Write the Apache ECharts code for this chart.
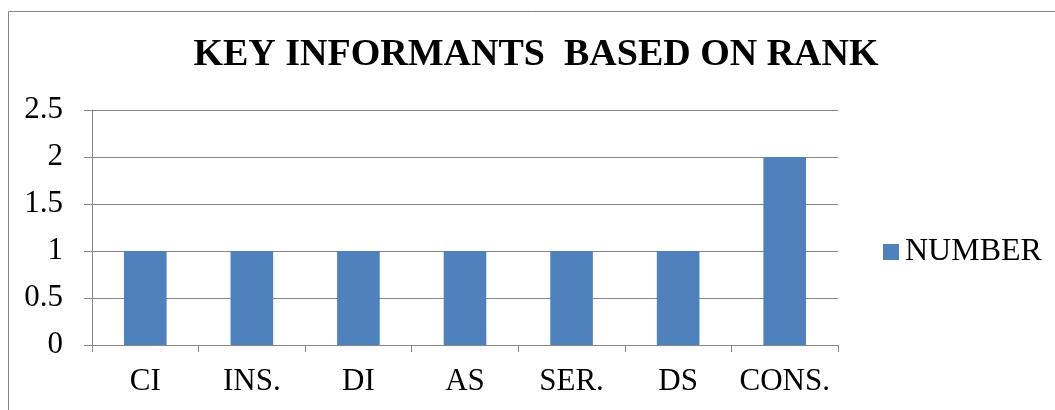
<!DOCTYPE html>
<html><head><meta charset="utf-8">
<script src="https://cdn.jsdelivr.net/npm/echarts@6/dist/echarts.min.js"></script>
<style>html,body{margin:0;padding:0;background:#fff}#c{width:1055px;height:410px}</style>
</head><body><div id="c"></div>
<script>
const categories = ['CI','INS.','DI','AS','SER.','DS','CONS.'];
const numberValues = [1,1,1,1,1,1,2];
const seriesName = 'NUMBER';
const titleText = 'KEY INFORMANTS  BASED ON RANK';
const font = '"Liberation Serif", "Times New Roman", serif';
const chart = echarts.init(document.getElementById('c'));
chart.setOption({
  animation:false,
  backgroundColor:'#fff',
  title:{text:titleText,left:531,textAlign:'center',top:31,textStyle:{fontFamily:font,fontSize:38,fontWeight:'bold',color:'#000'}},
  legend:{data:[seriesName],left:878,top:231,icon:'rect',itemWidth:16,itemHeight:16,itemGap:4,textStyle:{fontFamily:font,fontSize:32,color:'#000',padding:[0,0,0,1]}},
  graphic:[{type:'rect',shape:{x:8.5,y:11.5,width:1200,height:600},style:{fill:'none',stroke:'#868686',lineWidth:1},silent:true}],
  grid:{left:92,right:217,top:110,bottom:65,containLabel:false},
  xAxis:{type:'category',data:categories,
    axisLine:{lineStyle:{color:'#868686'}},
    axisTick:{show:true,interval:0,length:7,lineStyle:{color:'#868686'}},
    axisLabel:{interval:0,fontFamily:font,fontSize:31,color:'#000',margin:21}},
  yAxis:{type:'value',min:0,max:2.5,interval:0.5,
    axisLine:{show:true,lineStyle:{color:'#868686'}},
    axisTick:{show:true,length:8,lineStyle:{color:'#868686'}},
    axisLabel:{fontFamily:font,fontSize:31,color:'#000',margin:29},
    splitLine:{lineStyle:{color:'#868686'}}},
  series:[{name:seriesName,type:'bar',data:numberValues,barWidth:'40%',itemStyle:{color:'#4F81BD'}}]
});
</script></body></html>
